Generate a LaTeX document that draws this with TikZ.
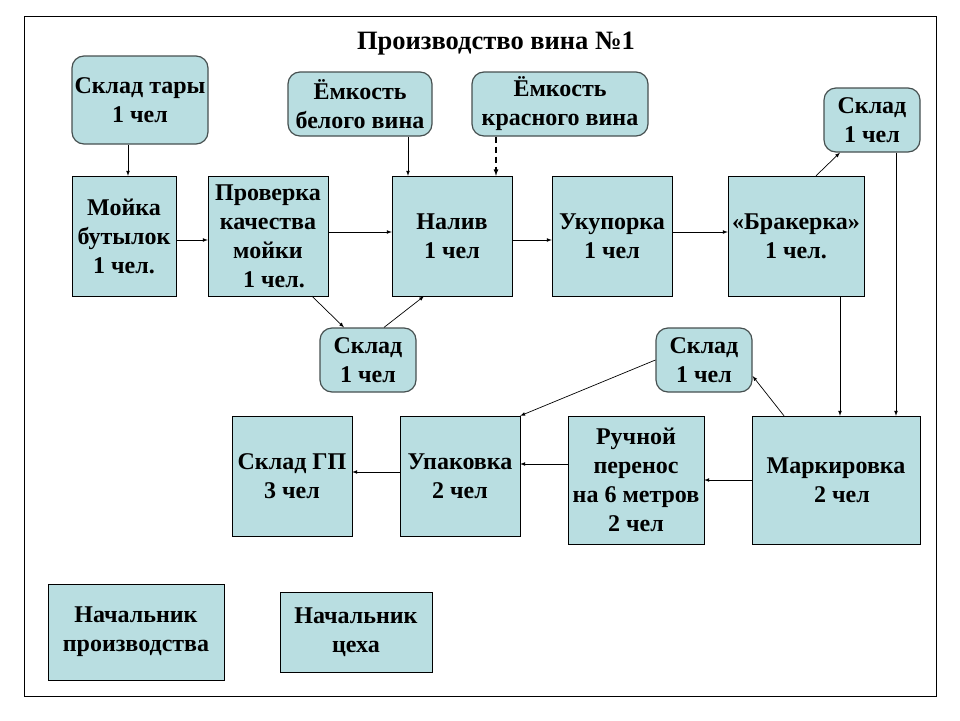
\documentclass[tikz,border=0pt]{standalone}
\usepackage{fontspec}
\setmainfont{Liberation Serif}[BoldFont={Liberation Serif Bold}]
\usetikzlibrary{arrows}
\definecolor{boxfill}{RGB}{185,222,225}
\definecolor{roundline}{RGB}{70,80,80}

\tikzset{
    box/.style={draw, fill=boxfill, align=center, inner sep=0pt,
        font=\bfseries\fontsize{24}{29}\selectfont},
    sklad/.style={box, draw=roundline, line width=1.2pt, rounded corners=12pt},
    wh/.style 2 args={minimum width=#1, minimum height=#2},
    arr/.style={->, line width=0.7pt}
}

\begin{document}
\begin{tikzpicture}[>=latex, x=1pt, y=-1pt]
\useasboundingbox (0,0) rectangle (960,720);
\draw[line width=1pt] (24,16) rectangle (936,696);
\node[font=\bfseries\fontsize{26.5}{30}\selectfont] (title) at (496,44) {Производство вина №1};

% upper row
\node[sklad, wh={136}{88}] (skladtary) at (140,100) {Склад тары\\1 чел};
\node[sklad, wh={144}{64}] (belogo) at (360,104) {Ёмкость\\белого вина};
\node[sklad, wh={176}{64}] (krasnogo) at (560,104) {Ёмкость\\красного вина};
\node[sklad, wh={96}{64}] (skladA) at (872,120) {Склад\\1 чел};

\node[box, wh={104}{120}] (mojka) at (124,236) {Мойка\\бутылок\\1 чел.};
\node[box, wh={120}{120}] (proverka) at (268,236) {Проверка\\качества\\мойки\\\ \ 1 чел.};
\node[box, wh={120}{120}] (naliv) at (452,236) {Налив\\1 чел};
\node[box, wh={120}{120}] (ukuporka) at (612,236) {Укупорка\\1 чел};
\node[box, wh={136}{120}] (brak) at (796,236) {«Бракерка»\\1 чел.};

% middle
\node[sklad, wh={96}{64}] (skladB) at (368,360) {Склад\\1 чел};
\node[sklad, wh={96}{64}] (skladC) at (704,360) {Склад\\1 чел};

% lower row
\node[box, wh={120}{120}] (skladgp) at (292,476) {Склад ГП\\3 чел};
\node[box, wh={120}{120}] (upak) at (460,476) {Упаковка\\2 чел};
\node[box, wh={136}{128}] (ruchnoj) at (636,480) {Ручной\\перенос\\на 6 метров\\2 чел};
\node[box, wh={168}{128}] (mark) at (836,480) {Маркировка\\\ \ 2 чел};

\node[box, wh={176}{96}] (nachprod) at (136,632) {Начальник\\производства};
\node[box, wh={152}{80}] (nachceh) at (356,632) {Начальник\\цеха};

\draw[arr] ([xshift=-12]skladtary.south) -- ([xshift=4]mojka.north);
\draw[arr] ([yshift=-4]mojka.east) -- ([yshift=-4]proverka.west);
\draw[arr] ([yshift=4]proverka.east) -- ([yshift=4]naliv.west);
\draw[arr] ([xshift=48]belogo.south) -- ([xshift=48]belogo.south |- naliv.north);
\draw[arr, dash pattern=on 6pt off 4pt, line width=1.2pt] ([xshift=-64]krasnogo.south) -- ([xshift=-64]krasnogo.south |- naliv.north);
\draw[arr] ([yshift=-4]naliv.east) -- ([yshift=-4]ukuporka.west);
\draw[arr] ([yshift=4]ukuporka.east) -- ([yshift=4]brak.west);
\draw[arr] ([xshift=20]brak.north) -- ([xshift=-32]skladA.south);
\draw[arr] ([xshift=24]skladA.south) -- ([xshift=24]skladA.south |- mark.north);
\draw[arr] ([xshift=44]brak.south) -- ([xshift=44]brak.south |- mark.north);
\draw[arr] ([xshift=44]proverka.south) -- ([xshift=-24]skladB.north);
\draw[arr] ([xshift=16]skladB.north) -- ([xshift=-28]naliv.south);
\draw[arr] ([xshift=-52]mark.north) -- ([yshift=-16]skladC.east);
\draw[arr] (skladC.west) -- (upak.north east);
\draw[arr] (mark.west) -- (ruchnoj.east);
\draw[arr] ([yshift=16]ruchnoj.west) -- ([yshift=12]upak.east);
\draw[arr] ([yshift=4]upak.west) -- ([yshift=4]skladgp.east);

\end{tikzpicture}
\end{document}
